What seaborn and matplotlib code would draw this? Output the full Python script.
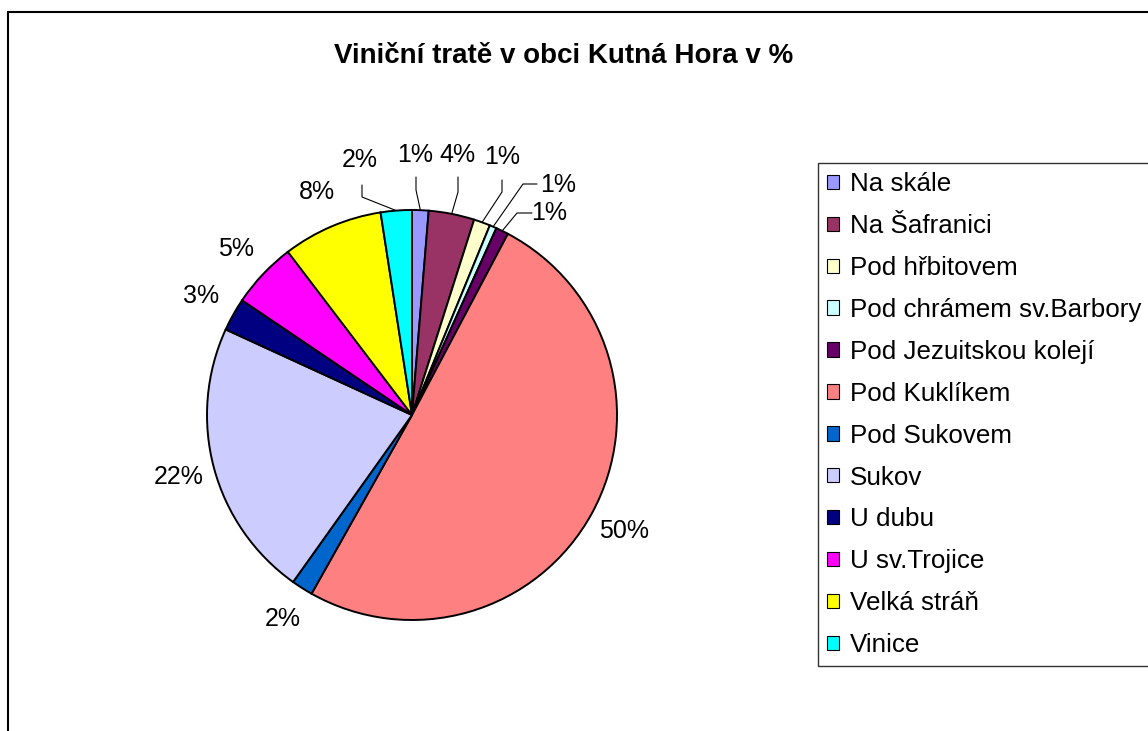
import numpy as np
import seaborn as sns
import matplotlib.pyplot as plt
from matplotlib.patches import Rectangle, Patch

# data (share of area, %)
names = ['Na skále', 'Na Šafranici', 'Pod hřbitovem', 'Pod chrámem sv.Barbory',
         'Pod Jezuitskou kolejí', 'Pod Kuklíkem', 'Pod Sukovem', 'Sukov',
         'U dubu', 'U sv.Trojice', 'Velká stráň', 'Vinice']
values = [1.3, 3.6, 1.3, 0.55, 1.0, 50.4, 1.7, 22.0, 2.6, 5.2, 7.9, 2.45]
colors = ['#9999FF', '#993366', '#FFFFCC', '#CCFFFF', '#660066', '#FF8080',
          '#0066CC', '#CCCCFF', '#000080', '#FF00FF', '#FFFF00', '#00FFFF']
title = 'Viniční tratě v obci Kutná Hora v %'

sns.set_style("white")
plt.rcParams['font.family'] = ['Liberation Sans', 'DejaVu Sans']
plt.rcParams['text.color'] = 'black'

W, H = 1148, 731
fig = plt.figure(figsize=(W / 100, H / 100), dpi=100)
fig.patch.set_facecolor('white')

# pie geometry in pixels
cx, cy, R = 412, 415, 205
ax = fig.add_axes([(cx - R) / W, (H - cy - R) / H, 2 * R / W, 2 * R / H])
palette = sns.color_palette(colors)
wedges, _ = ax.pie(values, colors=palette, startangle=90, counterclock=False,
                   radius=1, wedgeprops=dict(edgecolor='black', linewidth=1.4))
ax.set_xlim(-1, 1)
ax.set_ylim(-1, 1)
ax.axis('off')

def px2data(px, py):
    return (px - cx) / R, (cy - py) / R

# labels for the small top slices were moved by hand (Excel style), with leader lines
moved = {
    'Vinice': ((360, 160), [(362, 185), (362, 197)]),
    'Na skále': ((415, 155), [(416, 177), (416, 190)]),
    'Na Šafranici': ((457, 155), [(458, 177), (458, 192)]),
    'Pod hřbitovem': ((502, 157), [(502, 180), (502, 192)]),
    'Pod chrámem sv.Barbory': ((558, 185), [(537, 184), (523, 184)]),
    'Pod Jezuitskou kolejí': ((549, 213), [(532, 213), (517, 213)]),
}

total = sum(values)
for name, w, v in zip(names, wedges, values):
    pct = v / total * 100
    txt = f"{int(pct + 0.5)}%"
    ang = np.deg2rad((w.theta1 + w.theta2) / 2)
    if name in moved:
        (lx, ly), pts = moved[name]
        tx, ty = px2data(lx, ly)
        line = [px2data(*p) for p in pts] + [(np.cos(ang), np.sin(ang))]
        xs, ys = zip(*line)
        ax.plot(xs, ys, color='black', lw=0.8, clip_on=False)
    else:
        tx, ty = 1.18 * np.cos(ang), 1.18 * np.sin(ang)
    ax.text(tx, ty, txt, ha='center', va='center', fontsize=18, clip_on=False)

fig.text(564 / W, 1 - 56 / H, title, ha='center', va='center',
         fontsize=20, fontweight='bold')

handles = [Patch(facecolor=c, edgecolor='black', linewidth=0.8) for c in colors]
leg = fig.legend(handles, names, loc='upper left',
                 bbox_to_anchor=(818 / W, 1 - 163 / H), bbox_transform=fig.transFigure,
                 fontsize=18.7, frameon=True, fancybox=False, shadow=False,
                 handlelength=0.47, handleheight=0.47, handletextpad=0.4,
                 labelspacing=0.69, borderpad=0.35, borderaxespad=0)
leg.get_frame().set_edgecolor('black')
leg.get_frame().set_linewidth(1.0)

# outer chart border (runs off the right and bottom of the picture)
fig.patches.append(Rectangle((7.5 / W, -0.1), 1.2, (H - 11.7) / H + 0.1,
                             transform=fig.transFigure, fill=False,
                             edgecolor='black', linewidth=1.5))

fig.savefig('out.png', dpi=100)
